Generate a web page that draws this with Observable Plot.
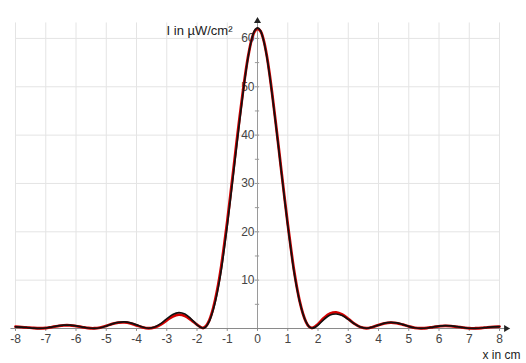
<!DOCTYPE html>
<html>
<head>
<meta charset="utf-8">
<script src="https://cdn.jsdelivr.net/npm/d3@7"></script>
<script src="https://cdn.jsdelivr.net/npm/@observablehq/plot@0.6"></script>
<style>
  html, body { margin: 0; padding: 0; background: #fff; }
</style>
</head>
<body>
<div id="chart"></div>
<script>
// positions in cm
const xs = [
  -8, -7.8, -7.6, -7.4, -7.2, -7.0, -6.8, -6.6, -6.4, -6.2, -6.0, -5.8, -5.6, -5.4, -5.2,
  -5.0, -4.8, -4.6, -4.4, -4.2, -4.0, -3.8, -3.6, -3.4, -3.2, -3.0, -2.8, -2.6, -2.4, -2.2,
  -2.0, -1.9, -1.8, -1.7, -1.6, -1.5, -1.4, -1.3, -1.2, -1.1, -1.0, -0.9, -0.8, -0.7, -0.6,
  -0.5, -0.4, -0.3, -0.2, -0.1, 0, 0.1, 0.2, 0.3, 0.4, 0.5, 0.6, 0.7, 0.8, 0.9,
  1.0, 1.1, 1.2, 1.3, 1.4, 1.5, 1.6, 1.7, 1.8, 1.9, 2.0,
  2.2, 2.4, 2.6, 2.8, 3.0, 3.2, 3.4, 3.6, 3.8, 4.0, 4.2, 4.4, 4.6, 4.8, 5.0,
  5.2, 5.4, 5.6, 5.8, 6.0, 6.2, 6.4, 6.6, 6.8, 7.0, 7.2, 7.4, 7.6, 7.8, 8.0
];
// black curve (I in µW/cm²)
const blackI = [
  0.35, 0.3, 0.2, 0.08, 0.02, 0.1, 0.3, 0.55, 0.7, 0.7, 0.55, 0.3, 0.1, 0.02, 0.15,
  0.5, 0.95, 1.25, 1.35, 1.15, 0.75, 0.3, 0.05, 0.3, 1.0, 2.0, 2.9, 3.3, 3.0, 2.0,
  0.75, 0.3, 0.05, 0.4, 1.4, 3.1, 5.4, 8.4, 12.0, 16.5, 21.3, 26.5, 31.8, 37.2, 42.5,
  47.6, 52.4, 56.5, 59.6, 61.6, 62.2, 61.6, 59.6, 56.5, 52.4, 47.6, 42.5, 37.2, 31.8, 26.5,
  21.3, 16.5, 12.0, 8.4, 5.4, 3.1, 1.4, 0.4, 0.05, 0.25, 0.7,
  1.9, 2.8, 3.0, 2.7, 1.9, 1.0, 0.3, 0.05, 0.3, 0.7, 1.1, 1.25, 1.15, 0.85, 0.45,
  0.15, 0.02, 0.1, 0.3, 0.5, 0.6, 0.55, 0.4, 0.2, 0.05, 0.02, 0.1, 0.25, 0.35, 0.4
];
// red curve (measured)
const redI = [
  0.4, 0.3, 0.2, 0.1, 0.05, 0.1, 0.3, 0.5, 0.65, 0.65, 0.5, 0.3, 0.1, 0.05, 0.2,
  0.55, 0.95, 1.2, 1.25, 1.05, 0.65, 0.25, 0.05, 0.25, 0.8, 1.7, 2.5, 2.85, 2.6, 1.8,
  0.8, 0.35, 0.1, 0.5, 1.6, 3.4, 5.9, 9.0, 12.8, 17.3, 22.1, 27.3, 32.6, 38.0, 43.2,
  48.1, 52.7, 56.6, 59.6, 61.4, 62.0, 61.5, 59.7, 56.7, 52.6, 47.8, 42.7, 37.4, 32.0, 26.7,
  21.6, 16.8, 12.3, 8.6, 5.5, 3.1, 1.4, 0.4, 0.1, 0.35, 0.9,
  2.2, 3.1, 3.35, 2.9, 2.0, 1.0, 0.3, 0.05, 0.3, 0.7, 1.05, 1.2, 1.1, 0.8, 0.45,
  0.15, 0.05, 0.1, 0.3, 0.45, 0.55, 0.5, 0.35, 0.2, 0.05, 0.05, 0.1, 0.25, 0.35, 0.4
];
const xTicks = [-8, -7, -6, -5, -4, -3, -2, -1, 0, 1, 2, 3, 4, 5, 6, 7, 8];
const yTicks = [10, 20, 30, 40, 50, 60];
const yMinor = [5, 10, 15, 20, 25, 30, 35, 40, 45, 50, 55, 60];
const yLabel = "I in µW/cm²";
const xLabel = "x in cm";

const black = xs.map((x, i) => ({x, I: blackI[i]}));
const red = xs.map((x, i) => ({x, I: redI[i]}));

const chart = Plot.plot({
  width: 526,
  height: 363,
  marginLeft: 15,
  marginRight: 27,
  marginTop: 21,
  marginBottom: 35,
  style: {fontFamily: "'Liberation Sans', Arial, sans-serif", fontSize: "12px", background: "#fff"},
  x: {domain: [-8, 8], axis: null},
  y: {domain: [0, 63.5], axis: null},
  marks: [
    Plot.ruleX(xTicks, {x: d => d, y1: 0, y2: 63.2, stroke: "#e4e4e4", strokeWidth: 1}),
    Plot.ruleY(yTicks, {y: d => d, x1: -8, x2: 8, stroke: "#e4e4e4", strokeWidth: 1}),
    Plot.ruleY([0], {x1: -8.15, x2: 8.2, stroke: "#8a8a8a", strokeWidth: 1}),
    Plot.ruleX([0], {y1: 0, y2: 63.8, stroke: "#9a9a9a", strokeWidth: 1}),
    Plot.ruleX(xTicks, {x: d => d, y1: 0, y2: -0.6, stroke: "#8a8a8a"}),
    Plot.ruleY(yMinor, {y: d => d, x1: -0.07, x2: 0.07, stroke: "#9a9a9a"}),
    Plot.dot([0], {x: 0, y: 63.6, symbol: "triangle", r: 2.6, fill: "#222", stroke: "none"}),
    Plot.dot([0], {x: 8.22, y: 0, symbol: "triangle", rotate: 90, r: 2.6, fill: "#222", stroke: "none"}),
    Plot.text(yTicks, {x: 0, y: d => d, text: d => String(d), dx: -3, textAnchor: "end", fill: "#444", fontSize: 12}),
    Plot.text(xTicks, {x: d => d, y: 0, text: d => String(d), dy: 11, fill: "#444", fontSize: 12}),
    Plot.line(red, {x: "x", y: "I", stroke: "#d40000", strokeWidth: 2.8, curve: "catmull-rom"}),
    Plot.line(black, {x: "x", y: "I", stroke: "#111", strokeWidth: 1.7, curve: "catmull-rom"}),
    Plot.text([yLabel], {x: 0, y: 63.5, text: d => d, dx: -25, dy: 9, textAnchor: "end", fill: "#222", fontSize: 13}),
    Plot.text([xLabel], {x: 8, y: 0, text: d => d, dx: 21, dy: 27, textAnchor: "end", fill: "#222", fontSize: 12})
  ]
});
document.getElementById("chart").appendChild(chart);
</script>
</body>
</html>
